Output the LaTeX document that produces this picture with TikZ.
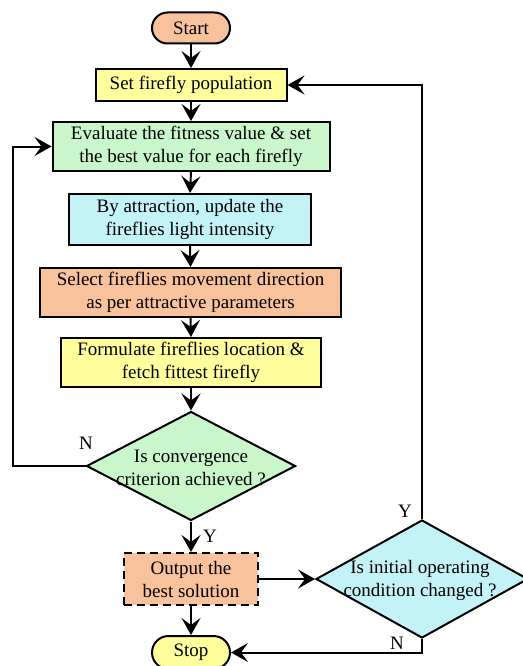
\documentclass[tikz,border=0pt]{standalone}
\usepackage{fontspec}
\setmainfont{Liberation Serif}
\usetikzlibrary{arrows.meta,shapes.geometric,shapes.misc}
\definecolor{cOrange}{HTML}{F8C29C}
\definecolor{cYellow}{HTML}{FFFF9E}
\definecolor{cGreen}{HTML}{C9F7CB}
\definecolor{cCyan}{HTML}{C3F3F7}
\tikzset{
  txt/.style={font=\fontsize{19}{23}\selectfont, align=center, inner sep=0pt},
  procbox/.style={draw, line width=2pt, rectangle, txt},
  term/.style={draw, line width=2pt, rounded rectangle, txt, minimum width=78, minimum height=31},
  decide/.style={draw, line width=2pt, diamond, inner sep=0pt},
  arr/.style={line width=2pt, -{Stealth[length=17pt,width=19pt,inset=7pt]}},
  lbl/.style={font=\fontsize{19}{23}\selectfont, inner sep=0pt}
}
\begin{document}
\begin{tikzpicture}[x=1pt,y=-1pt]
\useasboundingbox[fill=white] (0,0) rectangle (522,666);

% main column
\node[term, fill=cOrange] (start) at (191,28) {Start};
\node[procbox, fill=cYellow, minimum width=191, minimum height=32] (set) at (191,85) {Set firefly population};
\node[procbox, fill=cGreen, minimum width=277, minimum height=49] (eval) at (191,146.5) {Evaluate the fitness value \& set\\the best value for each firefly};
\node[procbox, fill=cCyan, minimum width=242, minimum height=51] (attr) at (190,219.5) {By attraction, update the\\fireflies light intensity};
\node[procbox, fill=cOrange, minimum width=301, minimum height=49] (sel) at (190.5,292.5) {Select fireflies movement direction\\as per attractive parameters};
\node[procbox, fill=cYellow, minimum width=260, minimum height=49] (form) at (191,362.5) {Formulate fireflies location \&\\fetch fittest firefly};

% first decision
\node[decide, fill=cGreen, minimum width=209, minimum height=109] (d1) at (191,466) {};
\node[txt] at (191,468) {Is convergence\\criterion achieved ?};

\node[procbox, dashed, dash pattern=on 8pt off 5pt, fill=cOrange, minimum width=134, minimum height=52] (out) at (191,579) {Output the\\best solution};
\node[term, fill=cYellow, minimum height=33] (stop) at (191,652.5) {Stop};

% second decision
\node[decide, fill=cCyan, minimum width=212, minimum height=118] (d2) at (422,579) {};
\node[txt] at (420,580) {Is initial operating\\condition changed ?};

% connectors
\draw[arr] (start.south) -- (set.north);
\draw[arr] (set.south) -- (eval.north);
\draw[arr] (eval.south) -- (attr.north);
\draw[arr] (attr.south) -- (sel.north);
\draw[arr] (sel.south) -- (form.north);
\draw[arr] (form.south) -- (d1.north);
\draw[arr] (d1.south) -- (out.north);
\draw[arr] (out.south) -- (stop.north);
\draw[arr] (d1.west) -- ++(-73,0) |- (eval.west);
\draw[arr] (out.east) -- (d2.west);
\draw[arr] (d2.north) |- (set.east);
\draw[arr] (d2.south) |- (stop.east);

% branch labels
\node[lbl] (n1) at (86,443) {N};
\node[lbl] (y1) at (210,536) {Y};
\node[lbl] (y2) at (405,511) {Y};
\node[lbl] (n2) at (397,643) {N};
\end{tikzpicture}
\end{document}
